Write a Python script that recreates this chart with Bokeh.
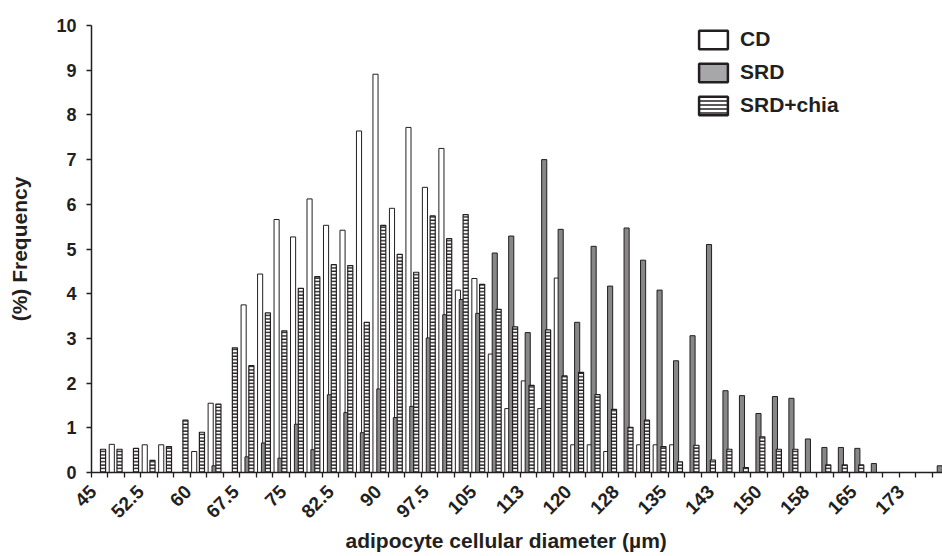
from bokeh.plotting import figure
from bokeh.models import (Range1d, FixedTicker, CustomJSTickFormatter, Legend,
                          LegendItem, ColumnDataSource, Title)
from bokeh.transform import dodge
from bokeh.embed import file_html
from bokeh.resources import INLINE

# ---------------- data ----------------
bins = [45, 47.5, 50, 52.5, 55, 57.5, 60, 62.5, 65, 67.5, 70, 72.5, 75, 77.5,
        80, 82.5, 85, 87.5, 90, 92.5, 95, 97.5, 100, 102.5, 105, 107.5, 110,
        112.5, 115, 117.5, 120, 122.5, 125, 127.5, 130, 132.5, 135, 137.5,
        140, 142.5, 145, 147.5, 150, 152.5, 155, 157.5, 160, 162.5, 165,
        167.5, 170, 172.5]

cd = [0, 0.63, 0, 0.62, 0.62, 0, 0.47, 1.55, 0, 3.75, 4.44, 5.66, 5.27, 6.12,
      5.53, 5.42, 7.64, 8.91, 5.91, 7.72, 6.38, 7.25, 4.08, 4.34, 2.65, 1.43,
      2.05, 1.43, 4.35, 0.62, 0.62, 0.47, 0, 0.62, 0.62, 0.62, 0, 0, 0, 0, 0,
      0, 0, 0, 0, 0, 0, 0, 0, 0, 0, 0]

srd = [0, 0, 0, 0, 0, 0, 0, 0.15, 0, 0.35, 0.66, 0.32, 1.08, 0.51, 1.74, 1.34,
       0.89, 1.87, 1.23, 1.48, 3.01, 3.53, 3.87, 3.56, 4.91, 5.29, 3.13, 7.0,
       5.44, 3.36, 5.06, 4.17, 5.47, 4.75, 4.08, 2.5, 3.06, 5.1, 1.83, 1.72,
       1.32, 1.7, 1.66, 0.75, 0.56, 0.56, 0.54, 0.2, 0, 0, 0, 0.15]

srd_chia = [0.52, 0.52, 0.54, 0.27, 0.58, 1.17, 0.9, 1.53, 2.79, 2.39, 3.57,
            3.17, 4.12, 4.38, 4.65, 4.63, 3.36, 5.53, 4.88, 4.48, 5.74, 5.23,
            5.77, 4.21, 3.65, 3.26, 1.95, 3.19, 2.16, 2.24, 1.74, 1.41, 1.01,
            1.17, 0.58, 0.24, 0.61, 0.28, 0.52, 0.11, 0.8, 0.52, 0.52, 0, 0.17,
            0.17, 0.17, 0, 0, 0, 0, 0]

tick_labels = ["45", "52.5", "60", "67.5", "75", "82.5", "90", "97.5", "105",
               "113", "120", "128", "135", "143", "150", "158", "165", "173"]

y_ticks = [0, 1, 2, 3, 4, 5, 6, 7, 8, 9, 10]

series_names = ["CD", "SRD", "SRD+chia"]

# ---------------- figure ----------------
FONT = "Liberation Sans"
INK = "#231f20"
NAN = float("nan")

idx = list(range(len(bins)))
src = ColumnDataSource(dict(i=idx, bin=bins, cd=cd, srd=srd, chia=srd_chia))

p = figure(width=942, height=556,
           x_range=Range1d(-0.5, 51.13), y_range=Range1d(0, 10),
           output_backend="svg", toolbar_location=None,
           min_border_left=91, min_border_right=0,
           min_border_top=25, min_border_bottom=84)
p.outline_line_color = None
p.grid.visible = False
p.background_fill_color = "white"

W = 0.31
p.vbar(x=dodge("i", -0.27, range=p.x_range), top="cd", width=W, source=src,
       fill_color="white", line_color=INK, line_width=1)
p.vbar(x=dodge("i", -0.035, range=p.x_range), top="srd", width=W, source=src,
       fill_color="#878787", line_color=INK, line_width=1)
p.vbar(x=dodge("i", 0.20, range=p.x_range), top="chia", width=W, source=src,
       fill_color="white", line_color=INK, line_width=1.2,
       hatch_pattern="horizontal_line", hatch_color=INK,
       hatch_scale=3.4, hatch_weight=1.4)

# legend swatches (thicker outlines, as in the reference); no visible data
proxy = dict(x=[NAN], top=[NAN])
l_cd = p.vbar(x="x", top="top", width=W, source=ColumnDataSource(proxy),
              fill_color="white", line_color=INK, line_width=2.5)
l_srd = p.vbar(x="x", top="top", width=W, source=ColumnDataSource(proxy),
               fill_color="#a7a7a9", line_color=INK, line_width=2.5)
l_chia = p.vbar(x="x", top="top", width=W, source=ColumnDataSource(proxy),
                fill_color="white", line_color=INK, line_width=2.5,
                hatch_pattern="horizontal_line", hatch_color=INK,
                hatch_scale=4.0, hatch_weight=1.5)

legend = Legend(items=[LegendItem(label=series_names[0], renderers=[l_cd]),
                       LegendItem(label=series_names[1], renderers=[l_srd]),
                       LegendItem(label=series_names[2], renderers=[l_chia])],
                location=(604, 355), glyph_width=36, glyph_height=23,
                label_height=23, spacing=9, padding=0, margin=0,
                border_line_color=None, background_fill_alpha=0,
                label_text_font=FONT, label_text_font_style="bold",
                label_text_font_size="21px", label_text_color=INK,
                label_standoff=9)
p.add_layout(legend)

# ---------------- axes ----------------
label_step = 49 / 17
label_shift = -0.4
xa = p.xaxis[0]
xa.ticker = FixedTicker(
    ticks=[k * label_step + label_shift for k in range(len(tick_labels))],
    minor_ticks=[i - 0.5 for i in range(len(bins) + 1)])
xa.formatter = CustomJSTickFormatter(
    args=dict(labels=tick_labels, step=label_step, shift=label_shift),
    code="return labels[Math.round((tick - shift) / step)];")
xa.major_label_orientation = 0.785398
xa.major_tick_line_color = None
xa.major_tick_in = 0
xa.major_tick_out = 5
xa.minor_tick_line_color = INK
xa.minor_tick_line_width = 1.3
xa.minor_tick_in = 0
xa.minor_tick_out = 5
xa.axis_line_color = INK
xa.axis_line_width = 1.5
xa.major_label_text_font = FONT
xa.major_label_text_font_style = "bold"
xa.major_label_text_font_size = "19px"
xa.major_label_text_color = INK
xa.major_label_standoff = 11

p.add_layout(Title(text="adipocyte cellular diameter (\u00b5m)", align="left",
                   offset=254, standoff=0, text_font=FONT,
                   text_font_style="bold", text_font_size="21px",
                   text_color=INK), "below")

ya = p.yaxis[0]
ya.ticker = FixedTicker(ticks=y_ticks, minor_ticks=[])
ya.major_tick_in = 0
ya.major_tick_out = 5
ya.major_tick_line_color = INK
ya.major_tick_line_width = 1.3
ya.axis_line_color = INK
ya.axis_line_width = 1.5
ya.major_label_text_font = FONT
ya.major_label_text_font_style = "bold"
ya.major_label_text_font_size = "18px"
ya.major_label_text_color = INK
ya.major_label_standoff = 10
ya.axis_label = "(%) Frequency"
ya.axis_label_text_font = FONT
ya.axis_label_text_font_style = "bold"
ya.axis_label_text_font_size = "21px"
ya.axis_label_text_color = INK
ya.axis_label_standoff = 22

open("out.html", "w").write(file_html(p, INLINE))
